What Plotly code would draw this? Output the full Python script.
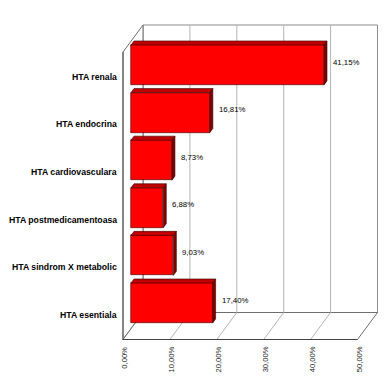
import plotly.graph_objects as go

# ---- data ----
categories = ["HTA esentiala", "HTA sindrom X metabolic", "HTA postmedicamentoasa",
              "HTA cardiovasculara", "HTA endocrina", "HTA renala"]
values = [17.40, 9.03, 6.88, 8.73, 16.81, 41.15]
tick_values = [0, 10, 20, 30, 40, 50]
tick_labels = ["0,00%", "10,00%", "20,00%", "30,00%", "40,00%", "50,00%"]

# ---- 3D projection helpers (depth offsets in data units) ----
DX, DY = 4.264, 0.567          # full depth shift in x (%) and y (category units)
D_FRONT, D_BACK = -0.4, 0.6    # front / back wall depths relative to bar plane
FLOOR, TOP = -0.54, 5.5
XMAX = tick_values[-1]
HALF = 0.42                    # half bar thickness
BD = 0.15                      # bar depth

W, H = 383, 377                # page has 8px body margin
X0, Y0 = 123, 295              # pixel of (0%, first category) in the figure
SX, SY = 4.69, 47.6


def P(v, i, d):
    return v + d * DX, i + d * DY


def poly(points):
    xs, ys = [], []
    for (v, i, d) in points:
        x, y = P(v, i, d)
        xs.append(x)
        ys.append(y)
    xs.append(xs[0])
    ys.append(ys[0])
    return xs, ys


fig = go.Figure()
shapes = []


def add_poly(points, fill, line, width=1):
    xs, ys = poly(points)
    path = "M " + " L ".join(f"{x},{y}" for x, y in zip(xs, ys)) + " Z"
    shapes.append(dict(type="path", path=path, xref="x", yref="y", layer="below",
                       fillcolor=fill, line=dict(color=line, width=width)))


def add_line(p1, p2, color, width=1):
    x1, y1 = P(*p1)
    x2, y2 = P(*p2)
    shapes.append(dict(type="line", x0=x1, y0=y1, x1=x2, y1=y2, xref="x", yref="y",
                       layer="below", line=dict(color=color, width=width)))


# walls
add_poly([(0, FLOOR, D_BACK), (XMAX, FLOOR, D_BACK), (XMAX, TOP, D_BACK), (0, TOP, D_BACK)],
         "white", "#8c8c8c")
add_poly([(0, FLOOR, D_FRONT), (0, TOP, D_FRONT), (0, TOP, D_BACK), (0, FLOOR, D_BACK)],
         "white", "#6e6e6e")
add_poly([(0, FLOOR, D_FRONT), (XMAX, FLOOR, D_FRONT), (XMAX, FLOOR, D_BACK), (0, FLOOR, D_BACK)],
         "white", "#6e6e6e")

# gridlines
for t in tick_values[1:-1]:
    add_line((t, FLOOR, D_BACK), (t, TOP, D_BACK), "#b4b4b4")
    add_line((t, FLOOR, D_FRONT), (t, FLOOR, D_BACK), "#b4b4b4")

# dark edges
add_line((0, FLOOR, D_FRONT), (0, TOP, D_FRONT), "#555555")
add_line((0, FLOOR, D_FRONT), (XMAX, FLOOR, D_FRONT), "#444444")

# bar front faces
fig.add_trace(go.Bar(x=values, y=list(range(len(values))), orientation="h", width=2 * HALF,
                     marker=dict(color="#ff0000", line=dict(color="#3a0000", width=0.6)),
                     hoverinfo="skip", showlegend=False))

# bar top and side faces
tx, ty, sx, sy = [], [], [], []
for i, v in enumerate(values):
    xs, ys = poly([(0, i + HALF, 0), (v, i + HALF, 0), (v, i + HALF, BD), (0, i + HALF, BD)])
    tx += xs + [None]
    ty += ys + [None]
    xs, ys = poly([(v, i - HALF, 0), (v, i + HALF, 0), (v, i + HALF, BD), (v, i - HALF, BD)])
    sx += xs + [None]
    sy += ys + [None]
fig.add_trace(go.Scatter(x=tx, y=ty, mode="lines", fill="toself", fillcolor="#c00000",
                         line=dict(color="#3a0000", width=0.6), hoverinfo="skip", showlegend=False))
fig.add_trace(go.Scatter(x=sx, y=sy, mode="lines", fill="toself", fillcolor="#800000",
                         line=dict(color="#3a0000", width=0.6), hoverinfo="skip", showlegend=False))

annotations = []
# category labels
for i, c in enumerate(categories):
    x, y = P(0, i, D_FRONT)
    annotations.append(dict(x=111 / W, xref="paper", y=y - 0.02, yref="y", text=c,
                            showarrow=False, xanchor="right", yanchor="middle",
                            font=dict(family="Liberation Sans, Arial", size=8.7,
                                      color="black", weight="bold")))
# value labels
for i, v in enumerate(values):
    annotations.append(dict(x=v + 1.5, y=i + 0.06, xref="x", yref="y",
                            text=f"{v:.2f}".replace(".", ",") + "%", showarrow=False,
                            xanchor="left", yanchor="middle",
                            font=dict(family="Liberation Sans, Arial", size=7.8, color="black")))
# tick labels
for t, lab in zip(tick_values, tick_labels):
    x, y = P(t, FLOOR, D_FRONT)
    annotations.append(dict(x=x + 0.3, y=y - 0.1, xref="x", yref="y", text=lab,
                            showarrow=False, textangle=-90, xanchor="center", yanchor="top",
                            font=dict(family="Liberation Sans, Arial", size=7.6, color="#222222")))

fig.update_layout(
    width=W, height=H, autosize=False,
    margin=dict(l=0, r=0, t=0, b=0),
    paper_bgcolor="white", plot_bgcolor="white",
    xaxis=dict(visible=False, range=[-X0 / SX, (W - X0) / SX], fixedrange=True),
    yaxis=dict(visible=False, range=[(Y0 - H) / SY, Y0 / SY], fixedrange=True),
    shapes=shapes,
    annotations=annotations,
    bargap=0,
)

fig.write_html("out.html")
